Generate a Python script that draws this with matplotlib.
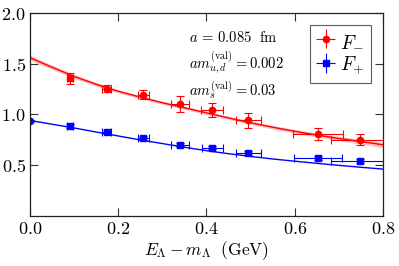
import matplotlib
matplotlib.use('Agg')
from matplotlib import pyplot as plt
from matplotlib.ticker import FuncFormatter

plt.rcParams['mathtext.fontset'] = 'cm'
plt.rcParams['font.family'] = 'serif'
plt.rcParams['font.serif'] = ['DejaVu Serif']

# F_- data points (red)
fm_x = [0.091, 0.174, 0.257, 0.340, 0.413, 0.495, 0.653, 0.748]
fm_y = [1.357, 1.252, 1.193, 1.104, 1.045, 0.940, 0.807, 0.748]
fm_yerr = [0.053, 0.033, 0.043, 0.080, 0.070, 0.077, 0.058, 0.054]
fm_xerr = [0.006, 0.010, 0.012, 0.020, 0.025, 0.028, 0.057, 0.066]
fm_marker = ['s', 'o', 'o', 'o', 'o', 'o', 'o', 'o']

# F_+ data points (blue)
fp_x = [0.000, 0.091, 0.174, 0.257, 0.340, 0.413, 0.495, 0.653, 0.748]
fp_y = [0.936, 0.886, 0.824, 0.770, 0.700, 0.672, 0.620, 0.567, 0.543]
fp_yerr = [0.010, 0.020, 0.018, 0.018, 0.018, 0.018, 0.018, 0.018, 0.020]
fp_xerr = [0.000, 0.006, 0.010, 0.012, 0.020, 0.024, 0.028, 0.055, 0.067]
fp_marker = ['o', 's', 's', 's', 's', 's', 's', 's', 's']

# fit curves
fit_x = [0.0, 0.05, 0.1, 0.15, 0.2, 0.25, 0.3, 0.35, 0.4,
         0.45, 0.5, 0.55, 0.6, 0.65, 0.7, 0.75, 0.8]
fit_fm = [1.560, 1.465, 1.375, 1.297, 1.228, 1.170, 1.115, 1.065, 1.015,
          0.965, 0.917, 0.873, 0.833, 0.796, 0.762, 0.731, 0.700]
fit_fm_err = [0.025, 0.022, 0.020, 0.018, 0.017, 0.016, 0.016, 0.016, 0.016,
              0.016, 0.017, 0.018, 0.019, 0.020, 0.022, 0.024, 0.026]
fit_fp = [0.940, 0.903, 0.866, 0.826, 0.787, 0.748, 0.712, 0.676, 0.642,
          0.612, 0.585, 0.560, 0.538, 0.517, 0.497, 0.478, 0.460]

red = '#ff0000'
blue = '#0000ff'

fig = plt.figure(figsize=(3.99, 2.66), dpi=100)
ax = fig.add_axes([0.075, 0.189, 0.885, 0.762])

lo = [y - e for y, e in zip(fit_fm, fit_fm_err)]
hi = [y + e for y, e in zip(fit_fm, fit_fm_err)]
ax.fill_between(fit_x, lo, hi, color=red, alpha=0.25, lw=0)
ax.plot(fit_x, fit_fm, color=red, lw=1.0)
ax.plot(fit_x, fit_fp, color=blue, lw=1.0)

for i in range(len(fm_x)):
    ax.errorbar(fm_x[i], fm_y[i], yerr=fm_yerr[i], xerr=fm_xerr[i],
                fmt=fm_marker[i], color=red, ms=4.5, capsize=3, elinewidth=0.8,
                capthick=0.8)
for i in range(len(fp_x)):
    ax.errorbar(fp_x[i], fp_y[i], yerr=fp_yerr[i], xerr=fp_xerr[i],
                fmt=fp_marker[i], color=blue, ms=4.5, capsize=3, elinewidth=0.8,
                capthick=0.8)

# legend handles
h1 = ax.errorbar([], [], yerr=[], xerr=[], fmt='o', color=red, ms=4.5,
                 capsize=3, elinewidth=0.8, capthick=0.8)
h2 = ax.errorbar([], [], yerr=[], xerr=[], fmt='s', color=blue, ms=4.5,
                 capsize=3, elinewidth=0.8, capthick=0.8)
leg = ax.legend([h1, h2], [r'$F_{-}$', r'$F_{+}$'], loc='upper right',
                fontsize=14, fancybox=False, edgecolor='#333333',
                handlelength=0.9, handletextpad=0.3, borderpad=0.35,
                labelspacing=0.25, borderaxespad=0.6)
leg.get_frame().set_linewidth(0.8)

ax.text(0.36, 1.76, r'$a\,=\,0.085\ \ \mathrm{fm}$', fontsize=10.5, va='center')
ax.text(0.36, 1.51, r'$am_{u,d}^{(\mathrm{val})}=0.002$', fontsize=10.5, va='center')
ax.text(0.36, 1.24, r'$am_{s}^{(\mathrm{val})}=0.03$', fontsize=10.5, va='center')

ax.set_xlim(0, 0.8)
ax.set_ylim(0, 2.0)
ax.set_xticks([0.0, 0.2, 0.4, 0.6, 0.8])
ax.set_yticks([0.5, 1.0, 1.5, 2.0])
fmt = FuncFormatter(lambda v, p: r'$%.1f$' % v)
ax.xaxis.set_major_formatter(fmt)
ax.yaxis.set_major_formatter(fmt)
ax.tick_params(direction='in', top=True, right=True, length=6, width=0.8,
               color='#333333', labelsize=13, pad=3)
for s in ax.spines.values():
    s.set_linewidth(0.9)
    s.set_color('#222222')

ax.set_xlabel(r'$E_{\Lambda}-m_{\Lambda}\ \ (\mathrm{GeV})$', fontsize=12.5, labelpad=1)

plt.savefig('out.png', dpi=100)
